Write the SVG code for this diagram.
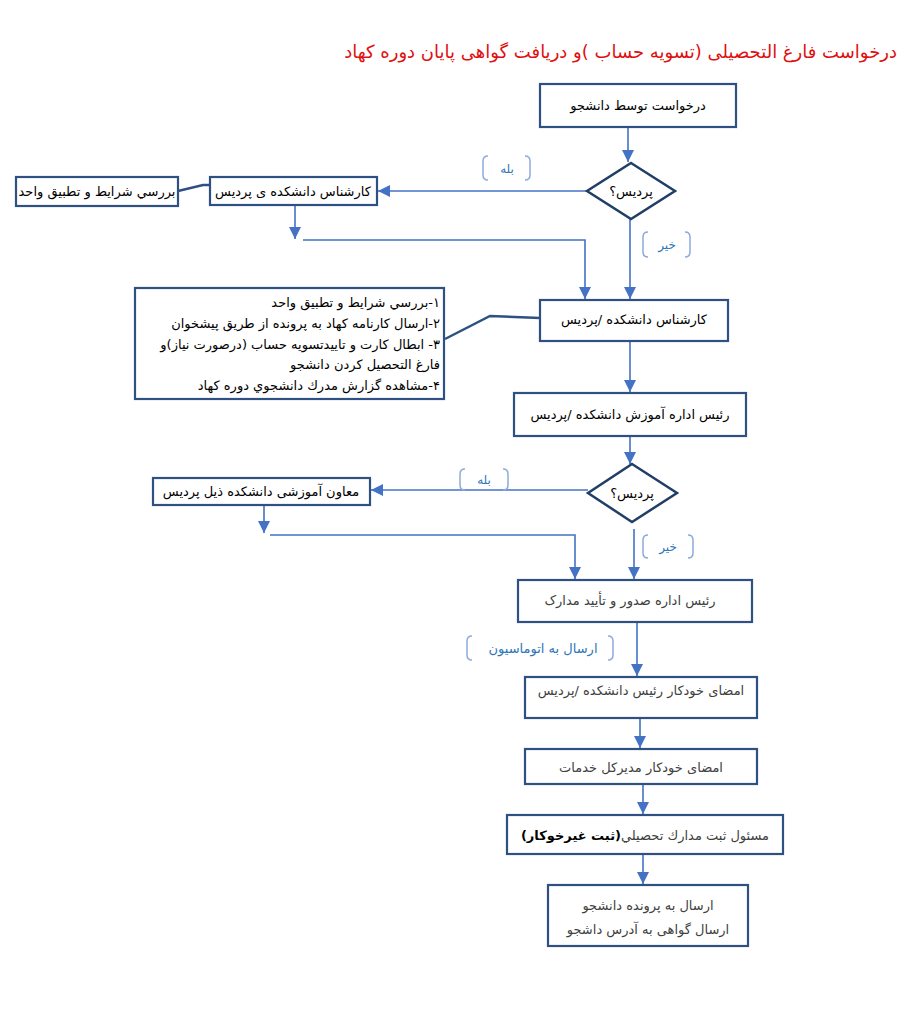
<svg xmlns="http://www.w3.org/2000/svg" width="917" height="1023" viewBox="0 0 917 1023">
<defs>
<marker id="arr" viewBox="0 0 12 12" refX="12" refY="6" markerWidth="12" markerHeight="12" markerUnits="userSpaceOnUse" orient="auto">
<path d="M0,0 L12,6 L0,12 Z" fill="#4472c4"/>
</marker>
<style>
.box{fill:#fff;stroke:#2f5083;stroke-width:2.2}
.dia{fill:#fff;stroke:#213f66;stroke-width:2.5}
.con{fill:none;stroke:#4472c4;stroke-width:1.6}
.arr{marker-end:url(#arr)}
.lnk{fill:none;stroke:#2f5083;stroke-width:2.5}
.brk{fill:none;stroke:#8faadc;stroke-width:1.5}
text{font-family:"DejaVu Sans","Noto Sans",sans-serif;direction:rtl}
.t{font-size:13px;fill:#000;text-anchor:middle}
.g{font-size:13px;fill:#404040;text-anchor:middle}
.lbl{font-size:12px;fill:#2e75b6;text-anchor:middle}
.lst{font-size:13px;fill:#000;text-anchor:start}
.title{font-size:18px;fill:#e01010;text-anchor:start}
</style>
</defs>
<rect width="917" height="1023" fill="#fff"/>
<text class="title" x="897" y="58">درخواست فارغ التحصیلی (تسویه حساب )و دریافت گواهی پایان دوره  کهاد</text>

<g id="connectors">
<path class="con arr" d="M628,127 V162"/>
<path class="con arr" d="M587,191 H378"/>
<path class="lnk" d="M178,191 L203,185 L211,185"/>
<path class="con arr" d="M295,205 V239"/>
<path class="con arr" d="M303,240 H585 V299"/>
<path class="con arr" d="M630,219 V299"/>
<path class="lnk" d="M540,318 L490,316 L445,339"/>
<path class="con arr" d="M630,341 V392"/>
<path class="con arr" d="M630,436 V464"/>
<path class="con arr" d="M588,490 H371"/>
<path class="con arr" d="M264,505 V533"/>
<path class="con arr" d="M270,535 H575 V579"/>
<path class="con arr" d="M634,529 V579"/>
<path class="con arr" d="M637,622 V676"/>
<path class="con arr" d="M640,718 V748"/>
<path class="con arr" d="M643,784 V814"/>
<path class="con arr" d="M643,854 V884"/>
</g>

<g id="label-yes1">
<path class="brk" d="M488,156 Q483,156 483,161 L483,175 Q483,180 488,180"/>
<path class="brk" d="M525,156 Q530,156 530,161 L530,175 Q530,180 525,180"/>
<text class="lbl" x="507" y="173">بله</text>
</g>
<g id="label-no1">
<path class="brk" d="M648,232 Q643,232 643,237 L643,252 Q643,257 648,257"/>
<path class="brk" d="M685,232 Q690,232 690,237 L690,252 Q690,257 685,257"/>
<text class="lbl" x="667" y="249">خير</text>
</g>
<g id="label-yes2">
<path class="brk" d="M465,469 Q460,469 460,474 L460,485 Q460,490 465,490"/>
<path class="brk" d="M503,469 Q508,469 508,474 L508,485 Q508,490 503,490"/>
<text class="lbl" x="484" y="484">بله</text>
</g>
<g id="label-no2">
<path class="brk" d="M648,535 Q643,535 643,540 L643,553 Q643,558 648,558"/>
<path class="brk" d="M688,535 Q693,535 693,540 L693,553 Q693,558 688,558"/>
<text class="lbl" x="668" y="551">خير</text>
</g>
<g id="label-auto">
<path class="brk" d="M472,636 Q467,636 467,641 L467,655 Q467,660 472,660"/>
<path class="brk" d="M608,636 Q613,636 613,641 L613,655 Q613,660 608,660"/>
<text class="lbl" x="543" y="653" style="font-size:13px">ارسال به اتوماسیون</text>
</g>

<g id="n1"><rect class="box" x="540" y="84" width="196" height="43"/><text class="t" x="638" y="110">درخواست توسط دانشجو</text></g>
<g id="n2"><path class="dia" d="M631,163 L675,191 L631,219 L587,191 Z"/><text class="t" x="631" y="196">پردیس؟</text></g>
<g id="n3"><rect class="box" x="210" y="177" width="167" height="28"/><text class="t" x="293" y="196">کارشناس دانشکده ی پردیس</text></g>
<g id="n4"><rect class="box" x="16" y="177" width="162" height="29"/><text class="t" x="97" y="196">بررسي شرايط و تطبيق واحد</text></g>
<g id="n5"><rect class="box" x="540" y="300" width="188" height="41"/><text class="t" x="634" y="324">کارشناس دانشکده /پردیس</text></g>
<g id="n6"><rect class="box" x="135" y="288" width="309" height="111"/>
<text class="lst" x="440" y="307">۱-بررسي شرايط و تطبيق واحد</text>
<text class="lst" x="440" y="328">۲-ارسال کارنامه  کهاد به پرونده از طریق پیشخوان</text>
<text class="lst" x="440" y="349">۳- ابطال کارت و تاییدتسویه  حساب (درصورت نیاز)و</text>
<text class="lst" x="440" y="369">فارغ التحصیل کردن دانشجو</text>
<text class="lst" x="440" y="390">۴-مشاهده گزارش مدرك  دانشجوي دوره کهاد</text>
</g>
<g id="n7"><rect class="box" x="514" y="393" width="232" height="43"/><text class="t" x="630" y="419">رئیس اداره آموزش دانشکده /پردیس</text></g>
<g id="n8"><path class="dia" d="M632,464 L677,493 L632,522 L588,493 Z"/><text class="t" x="632" y="498">پردیس؟</text></g>
<g id="n9"><rect class="box" x="153" y="478" width="217" height="27"/><text class="t" x="261" y="496">معاون آموزشی  دانشکده ذیل پردیس</text></g>
<g id="n10"><rect class="box" x="518" y="580" width="234" height="42"/><text class="g" x="630" y="605">رئیس اداره صدور و تأیید مدارک</text></g>
<g id="n11"><rect class="box" x="525" y="677" width="232" height="41"/><text class="g" x="641" y="695">امضای خودکار رئیس دانشکده /پردیس</text></g>
<g id="n12"><rect class="box" x="525" y="749" width="232" height="35"/><text class="g" x="641" y="772">امضای خودکار مدیرکل خدمات</text></g>
<g id="n13"><rect class="box" x="507" y="815" width="276" height="39"/><text class="g" x="645" y="840">مسئول ثبت مدارك تحصيلي<tspan fill="#000" font-weight="bold">(ثبت غیرخوکار)</tspan></text></g>
<g id="n14"><rect class="box" x="548" y="885" width="200" height="61"/><text class="g" x="648" y="910">ارسال به پرونده دانشجو</text><text class="g" x="648" y="934">ارسال گواهی  به آدرس داشجو</text></g>
</svg>
